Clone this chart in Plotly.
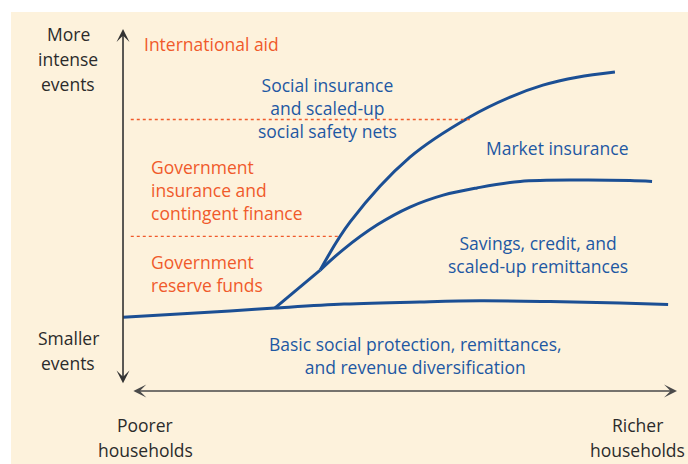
import plotly.graph_objects as go

# ---- data (conceptual units: x = household wealth 0-100, y = event intensity 0-100) ----
basic_x = [0, 19.3, 27.4, 39.9, 53.6, 64.4, 77.1, 89.7, 98.4]
basic_y = [20.4, 22.1, 22.9, 24.0, 24.6, 24.9, 24.7, 24.3, 23.9]

stem_x = [27.4, 35.6]
stem_y = [22.9, 33.4]

social_x = [35.6, 41.0, 51.8, 62.6, 69.9, 75.8, 82.0, 88.8]
social_y = [33.4, 46.7, 64.6, 75.7, 81.2, 84.5, 86.7, 88.1]

market_x = [35.6, 39.7, 45.9, 51.8, 57.8, 63.9, 71.7, 82.5, 91.5, 95.5]
market_y = [33.4, 39.0, 45.9, 50.8, 54.1, 56.1, 57.9, 58.3, 58.15, 57.9]

# dotted thresholds between public instruments: [x_start, x_end, level]
upper_threshold = [1.4, 62.6, 75.0]
lower_threshold = [1.4, 39.2, 42.7]

# axis extents
x_axis_ends = [1.6, 100]
y_axis_ends = [1.7, 100]

left_top_lines = ["More", "intense", "events"]
left_bottom_lines = ["Smaller", "events"]
intl_aid = ["International aid"]
social_lines = ["Social insurance", "and scaled-up", "social safety nets"]
gov_ins_lines = ["Government", "insurance and", "contingent finance"]
gov_res_lines = ["Government", "reserve funds"]
market_lines = ["Market insurance"]
savings_lines = ["Savings, credit, and", "scaled-up remittances"]
basic_lines = ["Basic social protection, remittances,", "and revenue diversification"]
poorer_lines = ["Poorer", "households"]
richer_lines = ["Richer", "households"]

# ---- styles ----
CREAM = "#FDF2DC"
BLUE_LINE = "#1B4F94"
BLUE_TXT = "#1E58A3"
RED = "#F05A2B"
DARK = "#2B2B2B"
FONT = "Open Sans"
FS = 17.5

fig = go.Figure()

for xs, ys in [(basic_x, basic_y), (stem_x, stem_y), (social_x, social_y), (market_x, market_y)]:
    fig.add_trace(go.Scatter(x=xs, y=ys, mode="lines",
                             line=dict(color=BLUE_LINE, width=3, shape="spline", smoothing=1.0),
                             hoverinfo="skip", showlegend=False))

for th in [upper_threshold, lower_threshold]:
    fig.add_trace(go.Scatter(x=[th[0], th[1]], y=[th[2], th[2]], mode="lines",
                             line=dict(color=RED, width=1.3, dash="dot"),
                             hoverinfo="skip", showlegend=False))

annotations = []

# axis arrows (double headed)
annotations.append(dict(x=0, y=y_axis_ends[1], ax=0, ay=y_axis_ends[0],
                        xref="x", yref="y", axref="x", ayref="y", text="",
                        showarrow=True, arrowhead=3, startarrowhead=3, arrowside="end+start",
                        arrowsize=1.35, startarrowsize=1.35, arrowwidth=1.6, arrowcolor="#333333"))
annotations.append(dict(x=x_axis_ends[1], y=0, ax=x_axis_ends[0], ay=0,
                        xref="x", yref="y", axref="x", ayref="y", text="",
                        showarrow=True, arrowhead=3, startarrowhead=3, arrowside="end+start",
                        arrowsize=1.35, startarrowsize=1.35, arrowwidth=1.6, arrowcolor="#4a4a4a"))


def add_lines(lines, x, ys, color, anchor="center"):
    """one annotation per line (used where line spacing is wide)"""
    for t, yy in zip(lines, ys):
        annotations.append(dict(x=x, y=yy, xref="x", yref="y", text=t, showarrow=False,
                                xanchor=anchor, yanchor="middle", align=anchor,
                                borderpad=0, borderwidth=0,
                                font=dict(family=FONT, size=FS, color=color)))


def add_block(lines, x, yc, color, anchor="center"):
    """one multi-line annotation centred on yc"""
    annotations.append(dict(x=x, y=yc, xref="x", yref="y", text="<br>".join(lines),
                            showarrow=False, xanchor=anchor, yanchor="middle", align=anchor,
                            borderpad=0, borderwidth=0,
                            font=dict(family=FONT, size=FS, color=color)))


add_lines(left_top_lines, -9.9, [98.5, 91.6, 84.7], DARK)
add_lines(left_bottom_lines, -9.9, [14.6, 7.7], DARK)
add_block(intl_aid, 3.7, 95.9, RED, "left")
add_block(social_lines, 36.9, 78.1, BLUE_TXT)
add_block(gov_ins_lines, 5.0, 55.4, RED, "left")
add_block(gov_res_lines, 5.0, 32.4, RED, "left")
add_block(market_lines, 78.4, 67.0, BLUE_TXT)
add_block(savings_lines, 74.9, 37.75, BLUE_TXT)
add_block(basic_lines, 52.8, 9.85, BLUE_TXT)
add_lines(poorer_lines, 4.0, [-9.5, -16.4], DARK)
add_lines(richer_lines, 92.8, [-9.5, -16.4], DARK)

fig.update_layout(
    width=688, height=464,
    margin=dict(l=11, r=0, t=12, b=0),
    paper_bgcolor="white", plot_bgcolor=CREAM,
    annotations=annotations,
    xaxis=dict(range=[-20.22, 101.99], visible=False, fixedrange=True),
    yaxis=dict(range=[-20.17, 104.70], visible=False, fixedrange=True),
    showlegend=False,
)

fig.write_html("out.html", config={"displayModeBar": False},
               post_script="document.body.style.margin='0';document.body.style.overflow='hidden';")
